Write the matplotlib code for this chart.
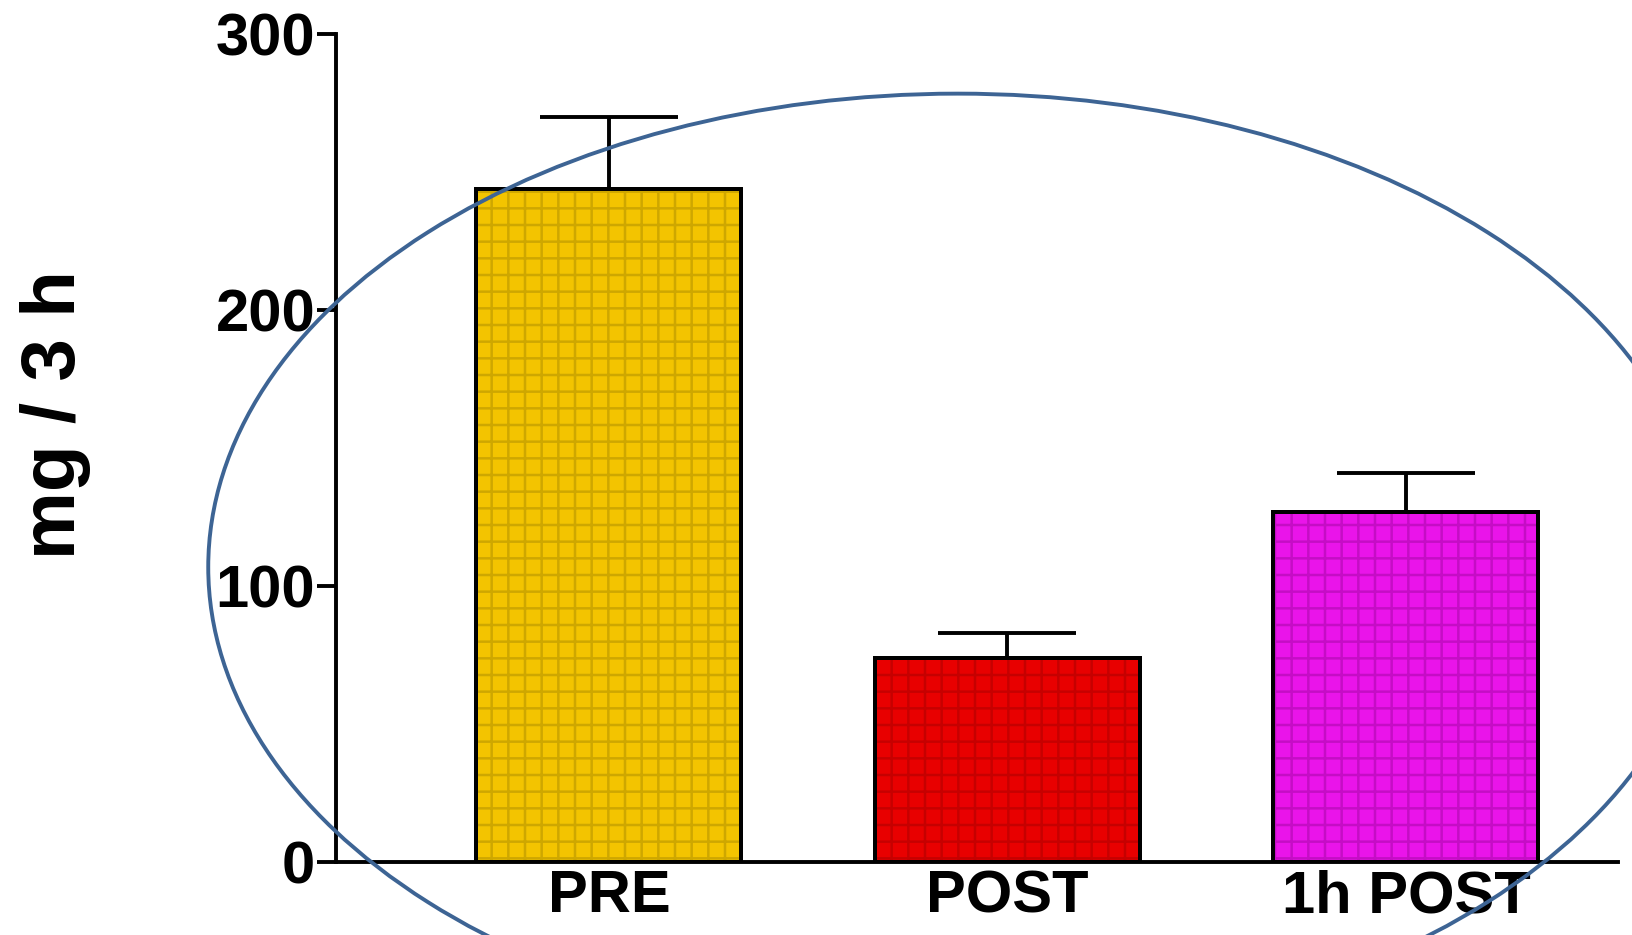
import matplotlib
matplotlib.use("Agg")
import matplotlib.pyplot as plt
from matplotlib.patches import Ellipse
import numpy as np

plt.rcParams['font.family'] = ['Liberation Sans', 'DejaVu Sans']
plt.rcParams['font.weight'] = 'bold'
plt.rcParams['hatch.linewidth'] = 1.8

# data
groups = ['PRE', 'POST', '1h POST']
means = [244, 74, 127]
sems = [26, 9, 14]
colors = ['#f3c400', '#e80000', '#ea14ea']
texture = ['#7a6400', '#7a0000', '#700070']
yticks = [0, 100, 200, 300]

fig = plt.figure(figsize=(16.32, 9.35), dpi=100)
ax = fig.add_axes([0.2059, 0.0780, 0.7855, 0.8856])

x = np.arange(len(groups))
ax.bar(x, means, width=0.665, color=colors, edgecolor='black', linewidth=2.8, zorder=2)
# the scanned bars have a fine dotted grid on them
for xi, m, tc in zip(x, means, texture):
    ax.bar(xi, m, width=0.665, facecolor='none', edgecolor=tc, hatch='+',
           linewidth=0, alpha=0.3, zorder=3)
ax.bar(x, means, width=0.665, facecolor='none', edgecolor='black', linewidth=2.8, zorder=4)
ax.errorbar(x, means, yerr=[[0] * len(sems), sems], fmt='none', ecolor='black',
            elinewidth=2.8, capsize=50, capthick=2.8, zorder=1)

ax.set_xlim(-0.685, 2.532)
ax.set_ylim(0, 300)
ax.set_yticks(yticks)
ax.set_xticks(x)
ax.set_xticklabels(groups, fontsize=43, fontweight='bold')
ax.tick_params(axis='x', length=0, pad=5)
ax.tick_params(axis='y', length=14, width=2.8, pad=1, labelsize=43)
for lab in ax.get_yticklabels():
    lab.set_fontweight('bold')

for s in ['top', 'right']:
    ax.spines[s].set_visible(False)
ax.spines['left'].set_linewidth(2.8)
ax.spines['bottom'].set_linewidth(2.8)

ax.set_ylabel('mg / 3 h', fontsize=55, fontweight='bold', va='center')
ax.yaxis.set_label_coords(-0.219, 0.541)

# hand-drawn highlight oval
oval = Ellipse((0.5868, 0.3934), 0.9184, 1.0129, transform=fig.transFigure,
               fill=False, edgecolor='#3d6494', linewidth=2.8, zorder=10)
fig.patches.append(oval)

fig.savefig('out.png', dpi=100)
